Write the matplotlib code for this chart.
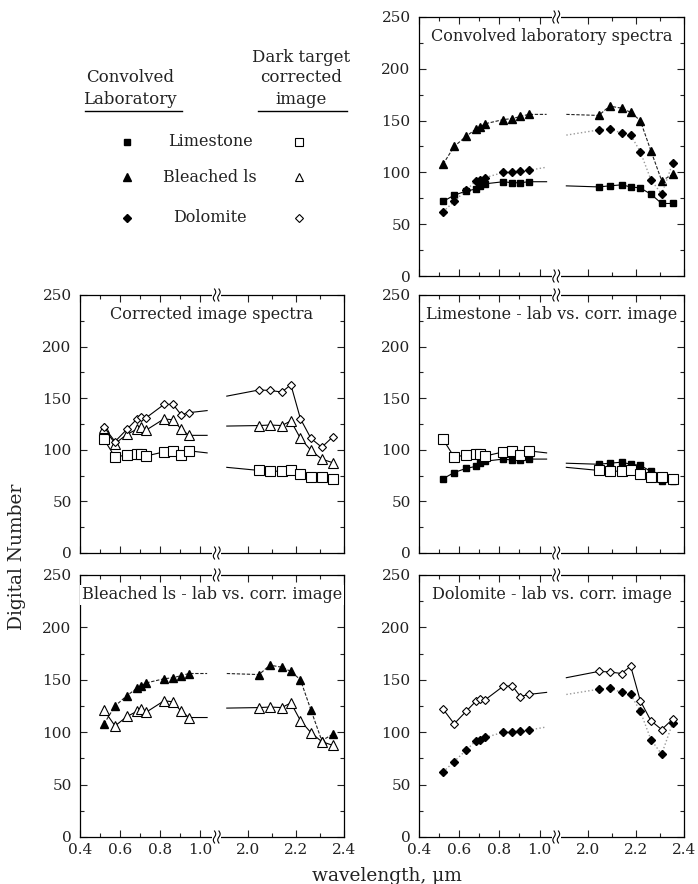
import numpy as np
import matplotlib
matplotlib.use('Agg')
import matplotlib.pyplot as plt
import matplotlib.transforms as mtransforms

plt.rcParams['font.family'] = ['DejaVu Serif']

# band positions (um); last left / first right entry is only the line end
X_LEFT = [0.52, 0.575, 0.635, 0.685, 0.705, 0.73, 0.82, 0.865, 0.905, 0.945, 1.035]
X_RIGHT = [1.91, 2.045, 2.09, 2.14, 2.178, 2.218, 2.262, 2.307, 2.353]

# convolved laboratory spectra
lab_limestone_l = [72, 78, 82, 84, 87, 89, 91, 90, 90, 91, 91]
lab_limestone_r = [87, 86, 87, 88, 86, 85, 79, 70, 70]
lab_bleached_l = [108, 125, 135, 142, 144, 147, 151, 152, 154, 156, 156]
lab_bleached_r = [156, 155, 164, 162, 158, 150, 121, 92, 98]
lab_dolomite_l = [62, 72, 83, 92, 93, 95, 100, 100, 101, 102, 105]
lab_dolomite_r = [136, 141, 142, 138, 136, 120, 93, 79, 109]

# dark target corrected image
img_limestone_l = [110, 93, 95, 96, 96, 94, 98, 99, 94.5, 99, 97]
img_limestone_r = [83, 80, 79, 79.5, 80.5, 76.5, 74, 74, 71.5]
img_bleached_l = [121, 106, 115, 120, 122, 119, 130, 129, 120, 114, 114]
img_bleached_r = [123, 123.5, 124, 123.5, 128, 111, 99.5, 91, 87.5]
img_dolomite_l = [122, 108, 120, 130, 132, 131, 144, 144, 134, 136, 138]
img_dolomite_r = [152, 158, 157.5, 156, 163, 130, 111, 102.5, 112.5]

B1, B2, K = 1.083, 1.868, 1.195


def fwd(x):
    x = np.asarray(x, dtype=float)
    return np.where(x <= B1, x, np.where(x >= B2, B1 + (x - B2) * K, B1))


def inv(u):
    u = np.asarray(u, dtype=float)
    return np.where(u <= B1, u, B2 + (u - B1) / K)


STYLES = {
    'lab_limestone': dict(color='black', lw=0.8, ls='-', marker='s', ms=4, mfc='black', mec='black'),
    'lab_bleached': dict(color='#222222', lw=0.8, ls=(0, (3, 1.5)), marker='^', ms=6, mfc='black', mec='black'),
    'lab_dolomite': dict(color='#999999', lw=1.0, ls=':', marker='D', ms=4.5, mfc='black', mec='black'),
    'img_limestone': dict(color='black', lw=0.8, ls='-', marker='s', ms=7, mfc='white', mec='black', mew=0.8),
    'img_bleached': dict(color='black', lw=0.8, ls='-', marker='^', ms=6.5, mfc='white', mec='black', mew=0.8),
    'img_dolomite': dict(color='black', lw=0.8, ls='-', marker='D', ms=4.5, mfc='white', mec='black', mew=0.8),
}

SERIES = {
    'lab_limestone': (lab_limestone_l, lab_limestone_r),
    'lab_bleached': (lab_bleached_l, lab_bleached_r),
    'lab_dolomite': (lab_dolomite_l, lab_dolomite_r),
    'img_limestone': (img_limestone_l, img_limestone_r),
    'img_bleached': (img_bleached_l, img_bleached_r),
    'img_dolomite': (img_dolomite_l, img_dolomite_r),
}

W, H = 698, 884
fig = plt.figure(figsize=(W / 100, H / 100), dpi=100)
TXT = '#222222'


def px_box(x0, x1, ytop, ybot):
    return [x0 / W, 1 - ybot / H, (x1 - x0) / W, (ybot - ytop) / H]


def draw_break(ax):
    xf = (B1 - 0.4) / (fwd(2.4) - 0.4)
    for yf in (0, 1):
        trans = fig.dpi_scale_trans + mtransforms.ScaledTranslation(xf, yf, ax.transAxes)
        ax.plot([-0.045, 0.045], [0, 0], color='white', lw=3, transform=trans,
                clip_on=False, zorder=6, solid_capstyle='butt')
        t = np.linspace(-1, 1, 40)
        for dx in (-0.022, 0.022):
            ax.plot(dx + 0.012 * np.sin(np.pi * t), 0.06 * t, color='black', lw=0.8,
                    transform=trans, clip_on=False, zorder=7)


def make_panel(box, title, keys, xlabels=False):
    ax = fig.add_axes(box)
    ax.set_xscale('function', functions=(fwd, inv))
    ax.set_xlim(0.4, 2.4)
    ax.set_ylim(0, 250)
    ax.set_xticks([0.4, 0.6, 0.8, 1.0, 2.0, 2.2, 2.4])
    ax.set_xticks([0.5, 0.7, 0.9, 2.1, 2.3], minor=True)
    ax.set_xticklabels(['0.4', '0.6', '0.8', '1.0', '2.0', '2.2', '2.4'])
    ax.set_yticks(range(0, 251, 50))
    ax.set_yticks(range(25, 250, 50), minor=True)
    ax.tick_params(which='both', direction='in', top=True, right=True, width=0.8,
                   labelsize=11, labelbottom=xlabels, pad=4, colors=TXT)
    ax.tick_params(axis='y', pad=6)
    ax.tick_params(which='major', length=5)
    ax.tick_params(which='minor', length=3)
    for s in ax.spines.values():
        s.set_linewidth(0.9)
    for k in keys:
        left, right = SERIES[k]
        st = STYLES[k]
        ax.plot(X_LEFT, left, markevery=list(range(len(X_LEFT) - 1)), **st)
        ax.plot(X_RIGHT, right, markevery=list(range(1, len(X_RIGHT))), **st)
    ax.text(0.5, 0.925, title, transform=ax.transAxes, ha='center', va='center',
            fontsize=11.6, color=TXT, zorder=8,
            bbox=dict(fc='white', ec='none', pad=1))
    draw_break(ax)
    return ax


make_panel(px_box(419, 684, 17, 276), 'Convolved laboratory spectra',
           ['lab_limestone', 'lab_bleached', 'lab_dolomite'])
make_panel(px_box(80, 344, 295, 553), 'Corrected image spectra',
           ['img_limestone', 'img_bleached', 'img_dolomite'])
make_panel(px_box(419, 684, 295, 553), 'Limestone - lab vs. corr. image',
           ['lab_limestone', 'img_limestone'])
make_panel(px_box(80, 344, 575, 837), 'Bleached ls - lab vs. corr. image',
           ['lab_bleached', 'img_bleached'], xlabels=True)
make_panel(px_box(419, 684, 575, 837), 'Dolomite - lab vs. corr. image',
           ['lab_dolomite', 'img_dolomite'], xlabels=True)

fig.text(17 / W, 1 - 557 / H, 'Digital Number', rotation=90, ha='center', va='center',
         fontsize=13.4, color=TXT)
fig.text(387 / W, 1 - 876 / H, 'wavelength, \u00b5m', ha='center', va='center',
         fontsize=13.4, color=TXT)

# legend block (top-left), drawn in pixel coordinates
lg = fig.add_axes([0, 0, 1, 1], zorder=-1)
lg.set_xlim(0, W)
lg.set_ylim(H, 0)
lg.axis('off')
lg.text(130, 78, 'Convolved', ha='center', va='center', fontsize=12, color=TXT)
lg.text(130, 99, 'Laboratory', ha='center', va='center', fontsize=12, color=TXT)
lg.plot([85, 182], [111, 111], color='black', lw=1)
lg.text(301, 58, 'Dark target', ha='center', va='center', fontsize=12, color=TXT)
lg.text(301, 78, 'corrected', ha='center', va='center', fontsize=12, color=TXT)
lg.text(301, 99, 'image', ha='center', va='center', fontsize=12, color=TXT)
lg.plot([258, 347], [111, 111], color='black', lw=1)

names = ['Limestone', 'Bleached ls', 'Dolomite']
rows_y = [142, 177, 218]
for name, y, lab_k, img_k in zip(names, rows_y,
                                 ['lab_limestone', 'lab_bleached', 'lab_dolomite'],
                                 ['img_limestone', 'img_bleached', 'img_dolomite']):
    lst = STYLES[lab_k]
    ist = STYLES[img_k]
    lg.plot([127], [y], ls='none', marker=lst['marker'], ms=lst['ms'], mfc='black', mec='black')
    lg.plot([299], [y], ls='none', marker=ist['marker'], ms=ist['ms'] * 0.8, mfc='white',
            mec='black', mew=0.8)
    lg.text(210, y, name, ha='center', va='center', fontsize=11.5, color=TXT)

fig.savefig('out.png', dpi=100)
